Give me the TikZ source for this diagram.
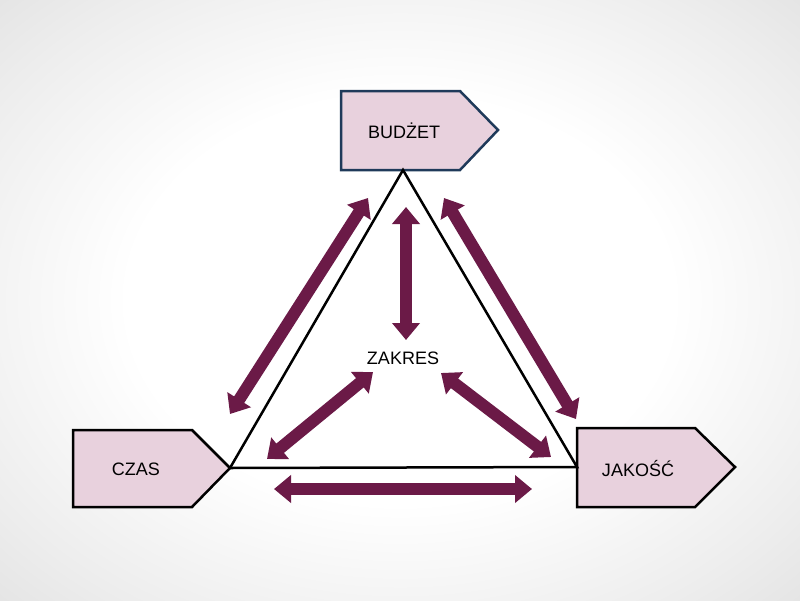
\documentclass[tikz,border=0pt]{standalone}
\usepackage{fontspec}
\setmainfont{Liberation Sans}
\usetikzlibrary{arrows.meta}
\definecolor{boxfill}{HTML}{E8D1DD}
\definecolor{navy}{HTML}{1F3A5A}
\definecolor{maroon}{HTML}{6B1A47}
\pgfdeclareradialshading{bgshade}{\pgfpoint{0bp}{0bp}}{%
  color(0bp)=(white); color(17bp)=(white); color(30bp)=(black!7); color(40bp)=(black!13); color(50bp)=(black!19); color(60bp)=(black!20)}
\tikzset{
  tag/.style={fill=boxfill, line width=2.5pt, line join=miter},
  lbl/.style={font=\fontsize{18pt}{20pt}\selectfont, inner sep=0pt},
  dbl/.style={maroon, line width=12pt, {Triangle[width=27pt,length=17pt]}-{Triangle[width=27pt,length=17pt]}},
}
\begin{document}
\begin{tikzpicture}[x=1pt,y=-1pt]
\useasboundingbox (0,0) rectangle (800,600);
\shade[shading=bgshade] (0,0) rectangle (800,600);
% tags
\draw[tag, draw=navy] (341,91) -- (460,91) -- (498,130) -- (460,170) -- (341,170) -- cycle;
\draw[tag, draw=black] (73,430) -- (192,430) -- (230,468) -- (192,507) -- (73,507) -- cycle;
\draw[tag, draw=black] (577,428) -- (695,428) -- (735,467) -- (695,507) -- (577,507) -- cycle;
% triangle
\coordinate (apex) at (403,170);
\coordinate (tl) at (230,468);
\coordinate (tr) at (577,467);
\draw[fill=white, line width=2.5pt, line join=miter] (apex) -- (tl) -- (tr) -- cycle;
% labels
\node[lbl] (budzet) at (404,131) {BUDŻET};
\node[lbl] (czas) at (136,469) {CZAS};
\node[lbl] (jakosc) at (638,469) {JAKOŚĆ};
\node[lbl] (zakres) at (403,358) {ZAKRES};
% arrow end points
\coordinate (a1s) at (230,414); \coordinate (a1e) at (368,198);
\coordinate (a2s) at (444,198); \coordinate (a2e) at (576,419);
\coordinate (a3s) at (406,207); \coordinate (a3e) at (406,340);
\coordinate (a4s) at (267,459); \coordinate (a4e) at (373,372);
\coordinate (a5s) at (441,373); \coordinate (a5e) at (551,457);
\coordinate (a6s) at (274,489); \coordinate (a6e) at (532,489);
\draw[dbl] (a1s) -- (a1e);
\draw[dbl] (a2s) -- (a2e);
\draw[dbl] (a3s) -- (a3e);
\draw[dbl] (a4s) -- (a4e);
\draw[dbl] (a5s) -- (a5e);
\draw[dbl] (a6s) -- (a6e);
\end{tikzpicture}
\end{document}
